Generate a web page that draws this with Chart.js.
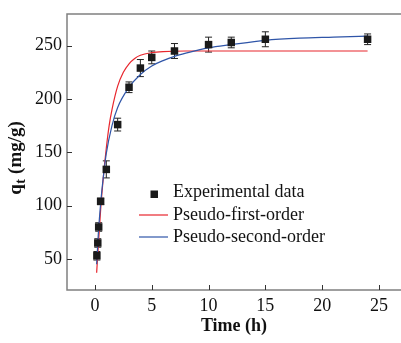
<!DOCTYPE html>
<html>
<head>
<meta charset="utf-8">
<script src="https://cdn.jsdelivr.net/npm/chart.js@4"></script>
<style>
  body { margin: 0; background: #fff; }
  canvas { display: block; }
</style>
</head>
<body>
<canvas id="kinetics" width="401" height="343"></canvas>
<script>
// experimental points: time (h), qt (mg/g), error bar half-height
const expTime = [0.17, 0.25, 0.33, 0.5, 1, 2, 3, 4, 5, 7, 10, 12, 15, 24];
const expQt = [53, 65, 80, 104, 134, 176, 211, 229, 239, 245, 251, 253, 256, 256];
const expErr = [4, 4, 4, 3, 8, 6, 5, 8, 6, 7, 7, 5, 7, 5];

// fitted curves
const pfoTime = [0.15, 0.3, 0.5, 0.75, 1, 1.25, 1.5, 2, 2.5, 3, 3.5, 4, 5, 6, 8, 12, 24];
const pfoQt = [37, 63, 96, 128, 154, 175, 190, 212, 225, 233, 238, 241, 243.5, 244.5, 245, 245, 245];
const psoTime = [0.15, 0.3, 0.5, 0.75, 1, 1.5, 2, 3, 4, 5, 6, 7, 8, 10, 12, 15, 18, 21, 24];
const psoQt = [45, 74, 102, 128, 149, 175, 192, 211, 223, 231, 236, 240, 243, 248, 251, 255, 257, 258, 259];

const xTicks = [0, 5, 10, 15, 20, 25];
const yTicks = [50, 100, 150, 200, 250];
const seriesNames = ["Experimental data", "Pseudo-first-order", "Pseudo-second-order"];

const serif = "'Liberation Serif', 'Times New Roman', serif";
const RED = "#e8262d";
const BLUE = "#2f55a8";

const toPts = (xs, ys) => xs.map((x, i) => ({ x, y: ys[i] }));

// error bars under the squares
const errorBars = {
  id: "errorBars",
  beforeDatasetsDraw(chart) {
    const { ctx, scales: { x, y } } = chart;
    ctx.save();
    ctx.strokeStyle = "#222";
    ctx.lineWidth = 1;
    expTime.forEach((t, i) => {
      const px = x.getPixelForValue(t);
      const top = y.getPixelForValue(expQt[i] + expErr[i]);
      const bot = y.getPixelForValue(expQt[i] - expErr[i]);
      ctx.beginPath();
      ctx.moveTo(px, top); ctx.lineTo(px, bot);
      ctx.moveTo(px - 3.5, top); ctx.lineTo(px + 3.5, top);
      ctx.moveTo(px - 3.5, bot); ctx.lineTo(px + 3.5, bot);
      ctx.stroke();
    });
    ctx.restore();
  }
};

// frame, inward ticks, y title with subscript, legend inside the plot
const decor = {
  id: "decor",
  afterDraw(chart) {
    const { ctx, chartArea: a, scales: { x, y } } = chart;
    ctx.save();
    ctx.strokeStyle = "#808080";
    ctx.lineWidth = 1.5;
    ctx.beginPath();
    ctx.moveTo(chart.width, a.top); ctx.lineTo(a.left, a.top);
    ctx.lineTo(a.left, a.bottom); ctx.lineTo(chart.width, a.bottom);
    ctx.stroke();

    ctx.strokeStyle = "#333";
    ctx.lineWidth = 1;
    ctx.beginPath();
    xTicks.forEach(v => {
      const px = Math.round(x.getPixelForValue(v)) + 0.5;
      ctx.moveTo(px, a.bottom); ctx.lineTo(px, a.bottom - 5);
    });
    yTicks.forEach(v => {
      const py = Math.round(y.getPixelForValue(v)) + 0.5;
      ctx.moveTo(a.left, py); ctx.lineTo(a.left + 5, py);
    });
    ctx.stroke();

    // y title: q_t (mg/g)
    ctx.fillStyle = "#111";
    ctx.translate(21, 158.5);
    ctx.rotate(-Math.PI / 2);
    ctx.textBaseline = "alphabetic";
    const big = "bold 19px " + serif, small = "bold 14px " + serif;
    ctx.font = big;
    const wq = ctx.measureText("q").width;
    const rest = " (mg/g)";
    const wr = ctx.measureText(rest).width;
    ctx.font = small;
    const wt = ctx.measureText("t").width;
    let sx = -(wq + wt + wr) / 2;
    ctx.font = big;
    ctx.fillText("q", sx, 0);
    ctx.font = small;
    ctx.fillText("t", sx + wq + 0.5, 4);
    ctx.font = big;
    ctx.fillText(rest, sx + wq + wt + 1, 0);
    ctx.setTransform(1, 0, 0, 1, 0, 0);

    // legend
    const ds = chart.data.datasets;
    ctx.font = "18px " + serif;
    ctx.textAlign = "left";
    const rows = [197, 220, 242];
    ctx.fillStyle = "#1a1a1a";
    ctx.fillRect(150.5, 190.5, 7.5, 7.5);
    [1, 2].forEach(k => {
      const ly = rows[k] - 5;
      ctx.strokeStyle = ds[k].borderColor;
      ctx.lineWidth = 1.2;
      ctx.beginPath();
      ctx.moveTo(139, ly); ctx.lineTo(168, ly);
      ctx.stroke();
    });
    ctx.fillStyle = "#111";
    seriesNames.forEach((name, k) => ctx.fillText(name, 173, rows[k]));
    ctx.restore();
  }
};

new Chart(document.getElementById("kinetics"), {
  type: "scatter",
  data: {
    datasets: [
      {
        label: seriesNames[0],
        data: toPts(expTime, expQt),
        pointStyle: "rect",
        pointRadius: 5.3,
        backgroundColor: "#1a1a1a",
        borderColor: "#1a1a1a",
        borderWidth: 0,
        order: 0
      },
      {
        label: seriesNames[1],
        data: toPts(pfoTime, pfoQt),
        showLine: true,
        pointRadius: 0,
        borderColor: RED,
        borderWidth: 1.2,
        cubicInterpolationMode: "monotone",
        order: 2
      },
      {
        label: seriesNames[2],
        data: toPts(psoTime, psoQt),
        showLine: true,
        pointRadius: 0,
        borderColor: BLUE,
        borderWidth: 1.2,
        cubicInterpolationMode: "monotone",
        order: 1
      }
    ]
  },
  options: {
    responsive: false,
    animation: false,
    devicePixelRatio: 1,
    layout: { autoPadding: false, padding: { top: 14, right: 0, left: 0, bottom: 0 } },
    plugins: { legend: { display: false }, tooltip: { enabled: false } },
    scales: {
      x: {
        type: "linear",
        min: -2.46,
        max: 26.94,
        afterBuildTicks: s => { s.ticks = xTicks.map(v => ({ value: v })); },
        afterFit: s => { s.height = 53; s.paddingLeft = 0; s.paddingRight = 0; },
        grid: { display: false, drawTicks: false },
        border: { display: false },
        ticks: { padding: 5, color: "#111", font: { family: serif, size: 18 }, maxRotation: 0 },
        title: { display: true, text: "Time (h)", color: "#111", font: { family: serif, size: 18, weight: "bold" }, padding: { top: 0, bottom: 6 } }
      },
      y: {
        type: "linear",
        min: 20.9,
        max: 279.7,
        afterBuildTicks: s => { s.ticks = yTicks.map(v => ({ value: v })); },
        afterFit: s => { s.width = 67; s.paddingTop = 0; s.paddingBottom = 0; },
        grid: { display: false, drawTicks: false },
        border: { display: false },
        ticks: { padding: 5, color: "#111", font: { family: serif, size: 18 } }
      }
    }
  },
  plugins: [errorBars, decor]
});
</script>
</body>
</html>
